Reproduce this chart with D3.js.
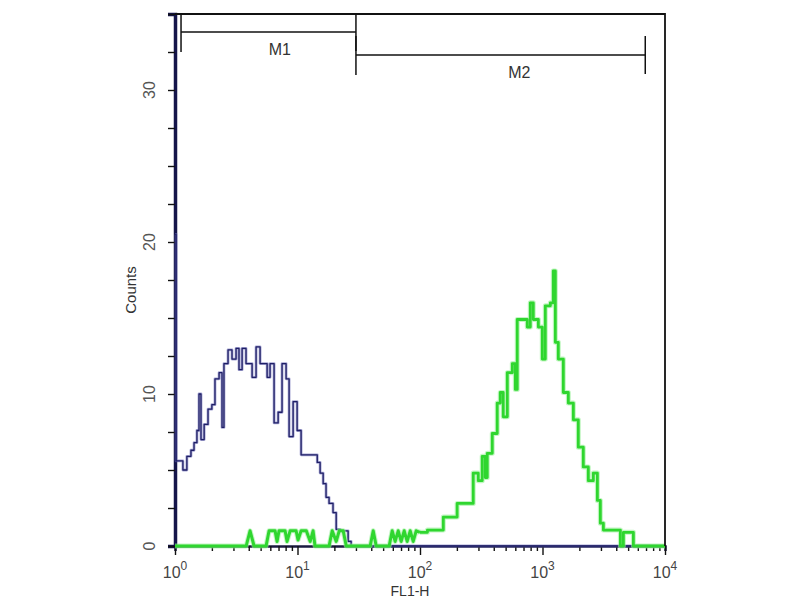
<!DOCTYPE html>
<html>
<head>
<meta charset="utf-8">
<script src="https://cdn.jsdelivr.net/npm/d3@7"></script>
<style>
  body { margin: 0; background: #fff; }
  text { font-family: "Liberation Sans", Arial, sans-serif; }
</style>
</head>
<body>
<div id="chart"></div>
<script>
// blue histogram (control): FL1-H value where each step starts, counts
var blueFL = [1, 1.02, 1.04, 1.16, 1.25, 1.35, 1.43, 1.51, 1.57, 1.63, 1.73, 1.86, 2.0, 2.12, 2.29, 2.42, 2.51,
	2.71, 2.92, 3.15, 3.33, 3.53, 3.8, 4.1, 4.26, 4.59, 4.95, 5.33, 5.65, 5.97, 6.44, 6.95, 7.48, 8.07,
	8.54, 9.21, 9.93, 10.7, 11.5, 12.4, 13.4, 14.5, 15.3, 16.2, 17.1, 18.1, 19.5, 20.7, 22.3, 24.0, 25.9, 27.4, 10000];
var blueCounts = [20.5, 5.6, 5.6, 5.0, 5.9, 6.3, 6.8, 7.6, 10.0, 7.0, 8.0, 9.0, 9.3, 11.0, 11.4, 7.8, 12.0,
	12.9, 12.3, 13.0, 11.6, 13.0, 12.0, 12.0, 11.1, 13.1, 12.0, 12.0, 11.1, 12.0, 8.1, 8.8, 12.0, 11.0,
	7.2, 9.5, 7.6, 6.0, 6.0, 6.0, 6.0, 5.5, 4.8, 4.1, 3.2, 2.8, 2.2, 1.1, 1.0, 1.0, 0.3, 0, 0];

// green histogram (stained sample), low part: sparse single events
var greenLowFL = [1, 3.81, 4.10, 4.42, 5.54, 5.86, 6.56, 6.81, 7.07, 7.92, 8.22, 8.70, 9.74, 10.1, 10.7, 11.8,
	12.7, 13.4, 13.9, 18.1, 19.2, 20.7, 21.9, 23.6, 25.0, 39.2, 41.5, 43.9, 56.0, 59.3, 62.7, 66.4, 70.2,
	74.3, 78.6, 83.2, 88.0, 93.1, 100];
var greenLowCounts = [0, 0, 1, 0, 0, 1, 1, 0.3, 1, 1, 0.3, 1, 1, 0.4, 1, 1,
	0.3, 1, 0, 0, 1, 0.3, 1, 1, 0, 0, 1, 0, 0, 1, 0.3, 1, 0.3,
	1, 0.3, 1, 0.3, 1, 0.9];

// green histogram, main peak: FL1-H value where each step starts, counts
var greenFL = [100, 115, 155, 201, 272, 299, 322, 341, 354, 389, 427, 452, 478, 516, 567, 600, 622, 697, 751, 795, 841,
	925, 996, 1054, 1159, 1225, 1273, 1346, 1479, 1625, 1786, 1960, 2153, 2366, 2600, 2805, 2966, 3140,
	4324, 4575, 4932, 5520, 5840, 10000];
var greenCounts = [0.9, 1.05, 1.9, 2.8, 4.8, 4.3, 5.9, 4.5, 6.1, 7.4, 9.4, 10.1, 8.5, 11.4, 12.0, 10.3, 14.9, 14.9, 14.4, 16.0, 14.9,
	14.4, 12.3, 15.8, 16.0, 18.1, 13.4, 12.3, 10.1, 9.4, 8.3, 6.5, 5.2, 4.3, 4.8, 3.0, 1.5, 1.05,
	0, 0.9, 0.9, 0, 0, 0];

// gates
var markerNames = ["M1", "M2"];
var markerStart = [1.12, 30];
var markerEnd = [30, 6900];

var yTickValues = d3.range(0, 35.01, 2.5);
var yLabelValues = [0, 10, 20, 30];

var svg = d3.select("#chart").append("svg")
	.attr("width", 800)
	.attr("height", 600);

var x = d3.scaleLog().domain([1, 10000]).range([175, 665]);
var y = d3.scaleLinear().domain([0, 35]).range([546, 14]);

// x axis
var xAxis = svg.append("g")
	.attr("transform", "translate(0," + y(0) + ")")
	.call(d3.axisBottom(x).tickValues(x.ticks()).tickSize(5).tickFormat(""));
xAxis.selectAll(".tick line")
	.attr("y2", function(d) { return Math.log10(d) % 1 === 0 ? 9 : 5; })
	.attr("stroke", "#111")
	.attr("stroke-width", 1.4);
xAxis.select(".domain").attr("stroke", "#1a1a40").attr("stroke-width", 2.5);

var decades = x.ticks().filter(function(d) { return Math.log10(d) % 1 === 0; });
var xl = svg.append("g").selectAll("text")
	.data(decades)
	.enter().append("text")
	.attr("x", function(d) { return x(d); })
	.attr("y", 578)
	.attr("text-anchor", "middle")
	.style("font-size", "16px")
	.style("fill", "#444");
xl.append("tspan").text("10");
xl.append("tspan")
	.attr("dy", "-8")
	.style("font-size", "12px")
	.text(function(d) { return Math.round(Math.log10(d)); });

svg.append("text")
	.attr("x", 410)
	.attr("y", 596)
	.attr("text-anchor", "middle")
	.style("font-size", "14px")
	.style("fill", "#333")
	.text("FL1-H");

// y axis
var yAxis = svg.append("g")
	.attr("transform", "translate(" + x(1) + ",0)")
	.call(d3.axisLeft(y).tickValues(yTickValues).tickSize(7).tickFormat(""));
yAxis.selectAll(".tick line").attr("stroke", "#111").attr("stroke-width", 1.4);
yAxis.select(".domain").attr("stroke", "#15154a").attr("stroke-width", 3.5);

svg.append("g").selectAll("text")
	.data(yLabelValues)
	.enter().append("text")
	.attr("transform", function(d) { return "translate(155," + y(d) + ") rotate(-90)"; })
	.attr("text-anchor", "middle")
	.style("font-size", "16px")
	.style("fill", "#555")
	.text(function(d) { return d; });

svg.append("text")
	.attr("transform", "translate(136,290) rotate(-90)")
	.attr("text-anchor", "middle")
	.style("font-size", "15px")
	.style("fill", "#333")
	.text("Counts");

// histograms
var line = d3.line()
	.x(function(d) { return x(d[0]); })
	.y(function(d) { return y(d[1]); })
	.curve(d3.curveStepAfter);
var lineLinear = d3.line()
	.x(function(d) { return x(d[0]); })
	.y(function(d) { return y(d[1]); });

function drawTrace(gen, data, halo, core, haloW, coreW) {
	svg.append("path").datum(data).attr("d", gen)
		.attr("fill", "none").attr("stroke", halo)
		.attr("stroke-width", haloW).attr("stroke-opacity", 0.6)
		.attr("stroke-linejoin", "round");
	svg.append("path").datum(data).attr("d", gen)
		.attr("fill", "none").attr("stroke", core)
		.attr("stroke-width", coreW)
		.attr("stroke-linejoin", "round");
}

drawTrace(line, d3.zip(blueFL, blueCounts), "#6c6cb8", "#1f1f66", 2.8, 1.3);
drawTrace(lineLinear, d3.zip(greenLowFL, greenLowCounts), "#9af09a", "#2fd62f", 5, 3);
drawTrace(line, d3.zip(greenFL, greenCounts), "#9af09a", "#2fd62f", 5, 2.8);

// frame top and right
svg.append("path")
	.attr("d", "M" + x(1) + "," + y(35) + "H" + x(10000) + "V" + y(0))
	.attr("fill", "none")
	.attr("stroke", "#111")
	.attr("stroke-width", 1.8);

// gate markers
var gateY = [32, 55];
var gateLabelY = [55, 78];
markerNames.forEach(function(name, i) {
	var x0 = x(markerStart[i]), x1 = x(markerEnd[i]), gy = gateY[i];
	var g = svg.append("g").attr("stroke", "#111").attr("stroke-width", 1.5);
	g.append("line").attr("x1", x0).attr("x2", x1).attr("y1", gy).attr("y2", gy);
	g.append("line").attr("x1", x0).attr("x2", x0).attr("y1", gy - 19).attr("y2", gy + 20);
	g.append("line").attr("x1", x1).attr("x2", x1).attr("y1", gy - 19).attr("y2", gy + 19);
	svg.append("text")
		.attr("x", x0 + 0.565 * (x1 - x0))
		.attr("y", gateLabelY[i])
		.attr("text-anchor", "middle")
		.style("font-size", "16px")
		.style("fill", "#333")
		.text(name);
});
</script>
</body>
</html>
